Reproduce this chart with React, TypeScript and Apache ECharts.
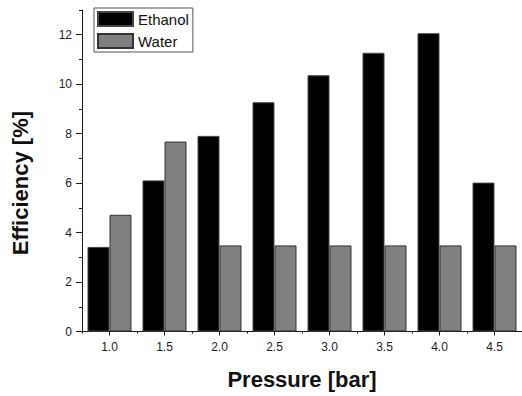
import React, { useEffect, useRef } from "react";
import * as echarts from "echarts";

// Pressure steps (bar) and measured efficiencies (%)
const categories = ["1.0", "1.5", "2.0", "2.5", "3.0", "3.5", "4.0", "4.5"];
const ethanol = [3.42, 6.11, 7.91, 9.27, 10.36, 11.27, 12.06, 6.02];
const water = [4.72, 7.68, 3.48, 3.48, 3.48, 3.48, 3.48, 3.48];

const FONT = "'Liberation Sans', Arial, sans-serif";
const AXIS = "#1a1a1a";

export default function App() {
  const ref = useRef<HTMLDivElement>(null);

  useEffect(() => {
    document.body.style.margin = "0";
    if (!ref.current) return;
    const chart = echarts.init(ref.current, undefined, { renderer: "svg" });

    // Outer grid: 0..13 with a tick every unit; inner grid shares the same
    // pixel scale but stops at 12 so only even values get long ticks/labels.
    const top = 10;
    const bottom = 64.5;
    const unit = (396 - top - bottom) / 13;

    chart.setOption({
      animation: false,
      backgroundColor: "#ffffff",
      textStyle: { fontFamily: FONT },
      grid: [
        { left: 82, right: 0, top, bottom },
        { left: 82, right: 0, top: top + unit, bottom },
      ],
      legend: {
        orient: "vertical",
        left: 94,
        top: 8,
        padding: [3, 4, 3, 3],
        itemGap: 6,
        itemWidth: 35,
        itemHeight: 14,
        icon: "rect",
        borderColor: "#555",
        borderWidth: 1,
        textStyle: { fontSize: 15, color: "#111", fontFamily: FONT, lineHeight: 14, padding: [0, 0, 0, 0] },
        data: ["Ethanol", "Water"],
      },
      xAxis: [
        {
          type: "category",
          gridIndex: 0,
          position: "bottom",
          data: categories,
          axisLine: { show: true, lineStyle: { color: AXIS, width: 1 } },
          axisTick: { show: true, alignWithLabel: false, length: 2, lineStyle: { color: AXIS } },
          axisLabel: { show: false },
          splitLine: { show: false },
        },
        {
          type: "category",
          gridIndex: 0,
          position: "bottom",
          data: categories,
          axisLine: { show: false },
          axisTick: { show: true, alignWithLabel: true, length: 4, lineStyle: { color: AXIS } },
          axisLabel: { show: true, fontSize: 12, color: "#222", margin: 9, fontFamily: FONT },
          splitLine: { show: false },
          name: "Pressure [bar]",
          nameLocation: "middle",
          nameGap: 37,
          nameTextStyle: { fontSize: 22, fontWeight: "bold", color: "#111", fontFamily: FONT },
        },
        {
          type: "category",
          gridIndex: 1,
          data: categories,
          show: false,
        },
      ],
      yAxis: [
        {
          type: "value",
          gridIndex: 0,
          min: 0,
          max: 13,
          interval: 1,
          axisLine: { show: true, lineStyle: { color: AXIS, width: 1 } },
          axisTick: { show: true, length: 3, lineStyle: { color: AXIS } },
          axisLabel: { show: false },
          splitLine: { show: false },
        },
        {
          type: "value",
          gridIndex: 1,
          min: 0,
          max: 12,
          interval: 2,
          axisLine: { show: false },
          axisTick: { show: true, length: 6, lineStyle: { color: AXIS } },
          axisLabel: { show: true, fontSize: 12, color: "#222", margin: 10, fontFamily: FONT },
          splitLine: { show: false },
          name: "Efficiency [%]",
          nameLocation: "middle",
          nameGap: 51,
          nameTextStyle: { fontSize: 22, fontWeight: "bold", color: "#111", fontFamily: FONT },
        },
      ],
      series: [
        {
          name: "Ethanol",
          type: "bar",
          xAxisIndex: 0,
          yAxisIndex: 0,
          data: ethanol,
          barGap: "0%",
          barCategoryGap: "20%",
          itemStyle: { color: "#000000", borderColor: "#444", borderWidth: 1 },
        },
        {
          name: "Water",
          type: "bar",
          xAxisIndex: 0,
          yAxisIndex: 0,
          data: water,
          barGap: "0%",
          barCategoryGap: "20%",
          itemStyle: { color: "#808080", borderColor: "#333", borderWidth: 1 },
        },
      ],
    });

    return () => chart.dispose();
  }, []);

  return <div ref={ref} style={{ width: 522, height: 396 }} />;
}
